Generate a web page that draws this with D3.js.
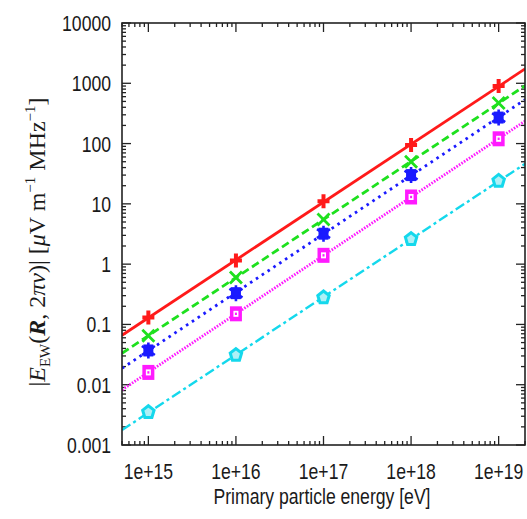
<!DOCTYPE html>
<html><head><meta charset="utf-8">
<script src="https://cdn.jsdelivr.net/npm/d3@7"></script>
<style>
html,body{margin:0;padding:0;background:#fff;}
svg{display:block;}
</style></head>
<body>
<svg id="chart" width="527" height="519"></svg>
<script>
// ---- data ----
const energies = [1e15, 1e16, 1e17, 1e18, 1e19];
const xTickLabels = ["1e+15", "1e+16", "1e+17", "1e+18", "1e+19"];
const yTickValues = [0.001, 0.01, 0.1, 1, 10, 100, 1000, 10000];
const yTickLabels = ["0.001", "0.01", "0.1", "1", "10", "100", "1000", "10000"];
const seriesRed = [0.13, 1.15, 11, 95, 900];
const seriesGreen = [0.065, 0.6, 5.5, 50, 470];
const seriesBlue = [0.037, 0.33, 3.2, 30, 270];
const seriesMagenta = [0.016, 0.15, 1.4, 13, 120];
const seriesCyan = [0.0035, 0.031, 0.28, 2.6, 24];
const xLabel = "Primary particle energy [eV]";

const series = [
  {values: seriesRed, color: "#ff1a1a", dash: null, width: 2.8, marker: "plus"},
  {values: seriesGreen, color: "#1ee01e", dash: "8,4", width: 2.8, marker: "cross"},
  {values: seriesBlue, color: "#1a1aff", dash: "2.6,4.4", width: 2.8, marker: "star"},
  {values: seriesMagenta, color: "#ff1aff", dash: "1.6,1.4", width: 2.8, marker: "square"},
  {values: seriesCyan, color: "#14d8ec", dash: "10,3.5,3,3.5", width: 2.4, marker: "pentagon"}
];

const svg = d3.select("#chart");
const L = 122, R = 525, T = 23, B = 445;
const x = d3.scaleLog().domain([5e14, 2e19]).range([L, R]);
const y = d3.scaleLog().domain([0.001, 10000]).range([B, T]);

const defs = svg.append("defs");
defs.append("clipPath").attr("id", "clip").append("rect")
  .attr("x", L).attr("y", T).attr("width", R - L).attr("height", B - T);

// minor tick lists
const xMinor = [], yMinor = [];
for (let e = 14; e <= 19; e++) for (let k = 2; k <= 9; k++) {
  const v = k * Math.pow(10, e);
  if (v >= 5e14 && v <= 2e19) xMinor.push(v);
}
for (let e = -3; e <= 3; e++) for (let k = 2; k <= 9; k++) yMinor.push(k * Math.pow(10, e));

const tickColor = "#222";
const axG = svg.append("g").attr("stroke", tickColor).attr("stroke-width", 1.3);
xMinor.forEach(v => {
  axG.append("line").attr("x1", x(v)).attr("x2", x(v)).attr("y1", B).attr("y2", B - 4);
  axG.append("line").attr("x1", x(v)).attr("x2", x(v)).attr("y1", T).attr("y2", T + 4);
});
energies.forEach(v => {
  axG.append("line").attr("x1", x(v)).attr("x2", x(v)).attr("y1", B).attr("y2", B - 9);
  axG.append("line").attr("x1", x(v)).attr("x2", x(v)).attr("y1", T).attr("y2", T + 9);
});
yMinor.forEach(v => {
  axG.append("line").attr("x1", L).attr("x2", L + 4).attr("y1", y(v)).attr("y2", y(v));
  axG.append("line").attr("x1", R).attr("x2", R - 4).attr("y1", y(v)).attr("y2", y(v));
});
yTickValues.forEach(v => {
  axG.append("line").attr("x1", L).attr("x2", L + 9).attr("y1", y(v)).attr("y2", y(v));
  axG.append("line").attr("x1", R).attr("x2", R - 9).attr("y1", y(v)).attr("y2", y(v));
});

// lines (least-squares fit in log-log space, extended across the plot)
const plotG = svg.append("g").attr("clip-path", "url(#clip)");
series.forEach(s => {
  const lx = energies.map(Math.log10), ly = s.values.map(Math.log10);
  const mx = d3.mean(lx), my = d3.mean(ly);
  const slope = d3.sum(lx.map((v, i) => (v - mx) * (ly[i] - my))) / d3.sum(lx.map(v => (v - mx) * (v - mx)));
  const ends = x.domain().map(d => [d, Math.pow(10, my + slope * (Math.log10(d) - mx))]);
  plotG.append("path")
    .attr("d", d3.line().x(d => x(d[0])).y(d => y(d[1]))(ends))
    .attr("fill", "none").attr("stroke", s.color).attr("stroke-width", s.width)
    .attr("stroke-dasharray", s.dash);
});

// markers
series.forEach(s => {
  s.values.forEach((v, i) => {
    const g = svg.append("g").attr("transform", `translate(${x(energies[i])},${y(v)})`);
    const c = s.color;
    if (s.marker === "plus") {
      g.append("path").attr("d", "M-6,0H6M0,-7V7").attr("stroke", c).attr("stroke-width", 4).attr("fill", "none");
    } else if (s.marker === "cross") {
      g.append("path").attr("d", "M-6,-6L6,6M-6,6L6,-6").attr("stroke", c).attr("stroke-width", 2.8).attr("fill", "none");
    } else if (s.marker === "star") {
      g.append("rect").attr("x", -5).attr("y", -6).attr("width", 10).attr("height", 12).attr("fill", c);
      g.append("path").attr("d", "M0,-8V8M-6.5,-4.5L6.5,4.5M-6.5,4.5L6.5,-4.5").attr("stroke", c).attr("stroke-width", 2.6).attr("fill", "none");
    } else if (s.marker === "square") {
      g.append("rect").attr("x", -6).attr("y", -7.5).attr("width", 12).attr("height", 15).attr("fill", c);
      g.append("rect").attr("x", -2.5).attr("y", -3).attr("width", 5).attr("height", 6).attr("fill", "#fff");
      g.append("rect").attr("x", -1).attr("y", -1.2).attr("width", 2).attr("height", 2.4).attr("fill", c);
    } else if (s.marker === "pentagon") {
      const pts = d3.range(5).map(k => {
        const a = -Math.PI / 2 + k * 2 * Math.PI / 5;
        return [6 * Math.cos(a), 6.5 * Math.sin(a)];
      });
      g.append("path").attr("d", "M" + pts.join("L") + "Z").attr("stroke", c).attr("stroke-width", 3).attr("fill", "#aef0f6");
    }
  });
});

// frame
svg.append("rect").attr("x", L).attr("y", T).attr("width", R - L).attr("height", B - T)
  .attr("fill", "none").attr("stroke", "#222").attr("stroke-width", 1.6);

// tick labels (condensed sans look)
const tickFont = "'Liberation Sans', Arial, sans-serif";
const txtColor = "#1a1a1a";
const sx = 0.8;
energies.forEach((v, i) => {
  svg.append("text").attr("transform", `translate(${x(v)},479) scale(${sx},1)`).attr("text-anchor", "middle")
    .attr("font-family", tickFont).attr("font-size", 22).attr("fill", txtColor).text(xTickLabels[i]);
});
yTickValues.forEach((v, i) => {
  svg.append("text").attr("transform", `translate(111,${y(v) + 8}) scale(${sx},1)`).attr("text-anchor", "end")
    .attr("font-family", tickFont).attr("font-size", 22).attr("fill", txtColor).text(yTickLabels[i]);
});
svg.append("text").attr("transform", `translate(322,504) scale(${sx},1)`).attr("text-anchor", "middle")
  .attr("font-family", tickFont).attr("font-size", 22).attr("fill", txtColor).text(xLabel);

// y axis label (LaTeX style)
const yl = svg.append("text").attr("transform", "translate(45,242) rotate(-90)")
  .attr("text-anchor", "middle").attr("font-family", "'Liberation Serif', 'DejaVu Serif', serif")
  .attr("font-size", 24).attr("fill", txtColor);
yl.append("tspan").text("|");
yl.append("tspan").attr("font-style", "italic").text("E");
yl.append("tspan").attr("font-size", 15).attr("dy", 5).text("EW");
yl.append("tspan").attr("dy", -5).text("(");
yl.append("tspan").attr("font-weight", "bold").attr("font-style", "italic").text("R");
yl.append("tspan").text(", 2");
yl.append("tspan").attr("font-style", "italic").text("πν");
yl.append("tspan").text(")| [");
yl.append("tspan").attr("font-style", "italic").text("μ");
yl.append("tspan").text("V m");
yl.append("tspan").attr("font-size", 15).attr("dy", -10).text("−1");
yl.append("tspan").attr("dy", 10).text(" MHz");
yl.append("tspan").attr("font-size", 15).attr("dy", -10).text("−1");
yl.append("tspan").attr("dy", 10).text("]");
</script>
</body></html>
